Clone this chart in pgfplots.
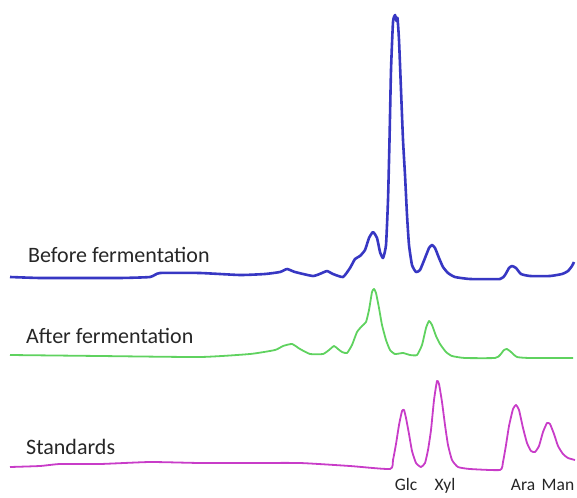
\documentclass[border=0pt]{standalone}
\usepackage{pgfplots}
\pgfplotsset{compat=1.18}
\usepackage{fontspec}
\setmainfont{Carlito}
\definecolor{cblue}{RGB}{55,55,195}
\definecolor{cgreen}{RGB}{95,210,95}
\definecolor{cmag}{RGB}{200,60,200}
\begin{document}
\begin{tikzpicture}
\begin{axis}[
  scale only axis, width=577pt, height=497pt,
  xmin=0, xmax=577, ymin=0, ymax=497, y dir=reverse,
  hide axis, clip=false, anchor=south west, at={(0pt,0pt)},
]
% Before fermentation
\addplot[cblue, line width=2.6pt, line join=round, smooth, tension=0.3] coordinates {
(10,277) (40,278) (80,278) (120,278) (150,277) (160,273) (200,273) (240,275) (265,274) (280,272) (287,269) (295,272) (313,276) (322,273) (327,271) (333,274) (343,277) (350,268) (355,259) (360,256) (365,250) (369,238) (373,232) (377,238) (380,252) (383,258) (386,245) (388,200) (389.5,140) (391,70) (393,22) (395,15) (396.5,21) (397.5,18) (399,40) (401,90) (403,140) (405,175) (407,215) (409,245) (412,265) (416,272) (420,270) (425,258) (429,248) (432,245) (435,248) (439,258) (443,267) (448,273) (455,277) (470,279) (500,279) (505,275) (509,268) (512,266) (516,268) (521,274) (530,276) (550,276) (562,274) (568,271) (572,266) (574,262)
};
% After fermentation
\addplot[cgreen, line width=1.8pt, line join=round, smooth, tension=0.3] coordinates {
(10,355) (100,356) (200,357) (250,354) (275,350) (283,346) (292,344) (300,349) (310,354) (323,354) (329,350) (334,346) (338,349) (342,352) (347,353) (352,345) (357,332) (362,326) (366,322) (369,310) (372,292) (374,289) (376,293) (379,308) (382,325) (386,340) (390,350) (395,354) (403,353) (410,355) (417,355) (422,345) (426,328) (429,321) (432,325) (436,336) (440,344) (446,352) (452,356) (465,358) (495,358) (500,355) (504,350) (507,349) (511,352) (517,357) (530,358) (573,358)
};
% Standards
\addplot[cmag, line width=1.8pt, line join=round, smooth, tension=0.3] coordinates {
(10,467) (40,466) (60,464) (100,464) (150,462) (200,463) (250,463) (300,463) (350,466) (390,469) (393,460) (396,444) (399,425) (402,411) (404,410) (406,418) (409,434) (412,451) (416,463) (421,467) (425,463) (428,450) (431,430) (434,400) (437,381) (439,384) (442,402) (445,425) (448,445) (452,460) (458,467) (470,469) (500,470) (503,462) (506,445) (509,426) (513,409) (516,405) (519,410) (523,428) (527,443) (531,451) (535,452) (539,446) (543,432) (547,423) (550,424) (554,434) (558,446) (563,454) (568,458) (575,460)
};
\begin{scope}[every node/.style={text=black!85, inner sep=0pt, font=\fontsize{22}{24}\selectfont}]
\node[anchor=base west] at (axis cs:28,262) {Before fermentation};
\node[anchor=base west] at (axis cs:26,343) {After fermentation};
\node[anchor=base west] at (axis cs:26,454) {Standards};
\end{scope}
\begin{scope}[every node/.style={text=black!85, inner sep=0pt, font=\fontsize{17.5}{20}\selectfont}]
\node[anchor=base] at (axis cs:406,490) {Glc};
\node[anchor=base] at (axis cs:445,490) {Xyl};
\node[anchor=base] at (axis cs:523,490) {Ara};
\node[anchor=base] at (axis cs:558,490) {Man};
\end{scope}
\end{axis}
\pgfresetboundingbox
\path[use as bounding box] (0pt,0pt) rectangle (577pt,497pt);
\end{tikzpicture}
\end{document}
